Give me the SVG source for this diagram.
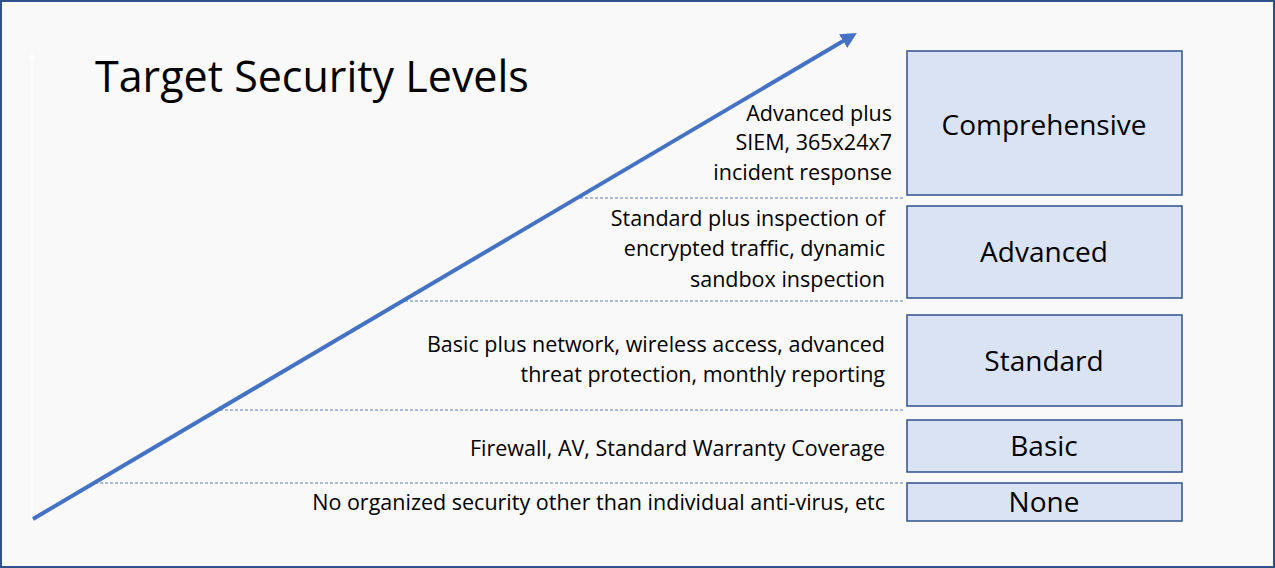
<svg xmlns="http://www.w3.org/2000/svg" width="1275" height="568" viewBox="0 0 1275 568">
<style>
.box{fill:#dae3f3;stroke:#2f528f;stroke-width:1.5}
.lbl{font-family:"Open Sans","Noto Sans",sans-serif;font-size:28px;fill:#000;text-anchor:middle}
.desc{font-family:"Open Sans","Noto Sans",sans-serif;font-size:21.5px;fill:#000;text-anchor:end}
.dash{stroke:#5b7fb5;stroke-width:1;stroke-dasharray:3,2}
</style>
<defs>
<marker id="ah" markerWidth="4" markerHeight="4" refX="2" refY="2" orient="auto" markerUnits="strokeWidth"><path d="M0,0 L4,2 L0,4 Z" fill="#4472c4"/></marker>
<marker id="wh" markerWidth="6" markerHeight="6" refX="3" refY="3" orient="auto"><path d="M0,0 L6,3 L0,6 Z" fill="#fff"/></marker>
</defs>
<rect x="1" y="1" width="1273" height="566" fill="#f9f9f9" stroke="#2f528f" stroke-width="2"/>
<text x="95" y="92" font-family="'Open Sans','Noto Sans',sans-serif" font-size="43" fill="#000">Target Security Levels</text>
<g id="connectors">
<line x1="32" y1="520" x2="32" y2="56" stroke="#fff" stroke-width="1" marker-end="url(#wh)"/>
<line class="dash" x1="580" y1="198" x2="905" y2="198"/>
<line class="dash" x1="405" y1="301" x2="905" y2="301"/>
<line class="dash" x1="220" y1="410" x2="905" y2="410"/>
<line class="dash" x1="95" y1="483" x2="905" y2="483"/>
<line x1="33" y1="519" x2="850" y2="37" stroke="#4472c4" stroke-width="4" marker-end="url(#ah)"/>
</g>
<g id="comprehensive"><rect class="box" x="907" y="51" width="275" height="144"/><text class="lbl" x="1044" y="135">Comprehensive</text>
<text class="desc" x="892" y="121">Advanced plus</text><text class="desc" x="892" y="150">SIEM, 365x24x7</text><text class="desc" x="892" y="180">incident response</text></g>
<g id="advanced"><rect class="box" x="907" y="206" width="275" height="92"/><text class="lbl" x="1044" y="262">Advanced</text>
<text class="desc" x="885" y="226">Standard plus inspection of</text><text class="desc" x="885" y="256">encrypted traffic, dynamic</text><text class="desc" x="885" y="287">sandbox inspection</text></g>
<g id="standard"><rect class="box" x="907" y="315" width="275" height="91"/><text class="lbl" x="1044" y="371">Standard</text>
<text class="desc" x="885" y="352">Basic plus network, wireless access, advanced</text><text class="desc" x="885" y="382">threat protection, monthly reporting</text></g>
<g id="basic"><rect class="box" x="907" y="420" width="275" height="52"/><text class="lbl" x="1044" y="456">Basic</text>
<text class="desc" x="885" y="456">Firewall, AV, Standard Warranty Coverage</text></g>
<g id="none"><rect class="box" x="907" y="483" width="275" height="38"/><text class="lbl" x="1044" y="512">None</text>
<text class="desc" x="885" y="510">No organized security other than individual anti-virus, etc</text></g>
</svg>
